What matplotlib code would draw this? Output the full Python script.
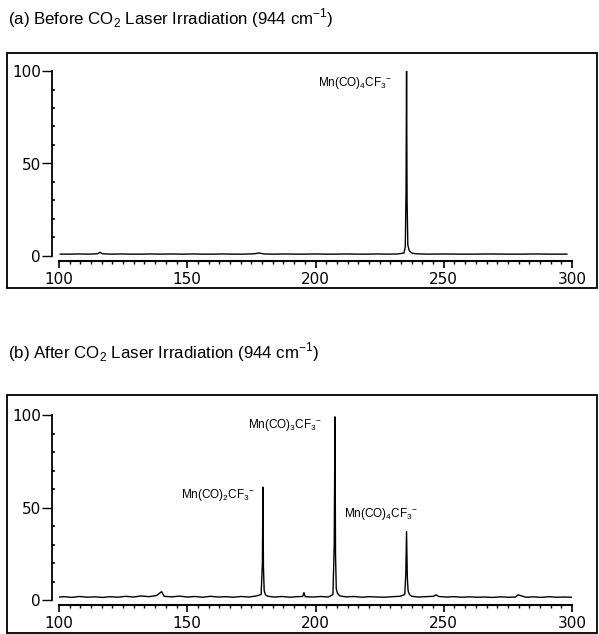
import matplotlib.pyplot as plt
from matplotlib.patches import Rectangle
from matplotlib.ticker import MultipleLocator

plt.rcParams['font.family'] = ['Liberation Sans', 'DejaVu Sans']
plt.rcParams['mathtext.fontset'] = 'custom'
plt.rcParams['mathtext.rm'] = 'Liberation Sans'

# ------------------------------
# Spectrum (a): before irradiation
# ------------------------------
mz_a = [100.5, 104, 108, 112, 115, 116, 117, 120, 124, 128, 132, 136, 140, 144,
        148, 152, 156, 160, 164, 168, 172, 176, 178, 180, 184, 188, 192, 196,
        200, 204, 208, 212, 216, 220, 224, 228, 232, 234.5, 235.0, 235.3,
        235.5, 235.7, 236.0, 236.5, 237.5, 239, 244, 250, 256, 262, 268, 274,
        280, 286, 292, 298]
int_a = [1.0, 1.0, 1.1, 1.0, 1.2, 2.0, 1.2, 1.0, 1.1, 1.0, 1.0, 1.1, 1.0, 1.1,
         1.0, 1.1, 1.0, 1.0, 1.1, 1.0, 1.0, 1.2, 1.6, 1.1, 1.0, 1.1, 1.0, 1.0,
         1.1, 1.0, 1.0, 1.1, 1.0, 1.0, 1.1, 1.0, 1.1, 1.6, 5.0, 35.0,
         100.0, 30.0, 6.0, 3.0, 1.6, 1.2, 1.0, 1.1, 1.0, 1.0, 1.1, 1.0,
         1.0, 1.1, 1.0, 1.0]

# ------------------------------
# Spectrum (b): after irradiation
# ------------------------------
mz_b = [99, 102, 105, 108, 111, 114, 117, 120, 123, 126, 129, 132, 135, 138,
        140, 141, 144, 147, 150, 153, 156, 159, 162, 165, 168, 171, 174, 177,
        178.8, 179.3, 179.5, 179.7, 180.0, 180.5, 181.5, 184, 187, 190, 193,
        195, 195.5, 196, 199, 202, 205, 206.8, 207.3, 207.6, 207.8, 208.1,
        208.6, 209.5, 212, 215, 218, 221, 224, 227, 230, 233, 234.8, 235.2,
        235.5, 235.8, 236.1, 236.6, 237.5, 240, 243, 246, 247, 248, 251, 254,
        257, 260, 263, 266, 269, 272, 275, 278, 279, 282, 285, 288, 291, 294,
        297, 300]
int_b = [1.5, 1.8, 1.4, 1.9, 1.5, 1.7, 1.4, 1.8, 1.5, 2.0, 1.6, 2.2, 1.8, 2.4,
         4.5, 2.0, 1.7, 2.1, 1.6, 1.9, 1.5, 2.0, 1.6, 1.8, 1.5, 1.9, 1.6, 2.2,
         3.0, 20.0, 61.0, 18.0, 5.0, 2.8, 2.0, 1.6, 1.9, 1.5, 1.8,
         1.9, 4.0, 1.8, 1.6, 1.9, 1.6, 3.0, 30.0, 99.0, 25.0, 6.0,
         3.5, 2.2, 1.7, 1.9, 1.5, 1.8, 1.6, 1.5, 1.8, 2.0, 3.0, 14.0,
         37.0, 12.0, 5.0, 3.0, 2.0, 1.6, 1.8, 2.0, 2.8, 1.9, 1.6, 1.8,
         1.5, 1.7, 1.5, 1.6, 1.4, 1.7, 1.5, 1.6, 2.8, 1.5, 1.7, 1.4, 1.8, 1.5,
         1.6, 1.5]

# Ion labels: (text, m/z position, intensity position)
labels_a = [(r"Mn(CO)$_4$CF$_3$$^{-}$", 215.5, 93.5)]
labels_b = [(r"Mn(CO)$_2$CF$_3$$^{-}$", 162.0, 57.0),
            (r"Mn(CO)$_3$CF$_3$$^{-}$", 188.0, 94.5),
            (r"Mn(CO)$_4$CF$_3$$^{-}$", 225.5, 46.5)]

titles = [r"(a) Before CO$_2$ Laser Irradiation (944 cm$^{-1}$)",
          r"(b) After CO$_2$ Laser Irradiation (944 cm$^{-1}$)"]

W, H = 599, 634
fig = plt.figure(figsize=(W / 100, H / 100), dpi=100)


def frac_x(px):
    return px / W


def frac_y(py):
    return 1 - py / H


def draw_panel(y0_px, y100_px, mz, inten, labels, title, title_y, box):
    ax = fig.add_axes([frac_x(59), frac_y(y0_px), frac_x(572) - frac_x(59),
                       frac_y(y100_px) - frac_y(y0_px)])
    ax.plot(mz, inten, color='black', lw=1.0)
    ax.set_xlim(100, 300)
    ax.set_ylim(0, 100)

    for s in ['top', 'right']:
        ax.spines[s].set_visible(False)
    ax.spines['left'].set_position(('outward', 5))
    ax.spines['bottom'].set_position(('outward', 3.5))
    ax.spines['left'].set_bounds(0, 100)
    ax.spines['bottom'].set_bounds(100, 300)
    ax.spines['left'].set_linewidth(1.3)
    ax.spines['bottom'].set_linewidth(1.5)

    ax.set_xticks([100, 150, 200, 250, 300])
    ax.xaxis.set_minor_locator(MultipleLocator(50 / 12))
    ax.set_yticks([0, 50, 100])
    ax.yaxis.set_minor_locator(MultipleLocator(10))
    ax.tick_params(axis='x', which='major', direction='out', length=5, width=1.2,
                   pad=3, labelsize=11, labelfontfamily='DejaVu Sans')
    ax.tick_params(axis='x', which='minor', direction='out', length=2.5, width=1.0)
    ax.tick_params(axis='y', which='major', direction='out', length=7, width=1.0,
                   pad=1, labelsize=11, labelfontfamily='DejaVu Sans')
    ax.tick_params(axis='y', which='minor', direction='in', length=2, width=1.2)

    for text, x, y in labels:
        ax.text(x, y, text, fontsize=8.5, ha='center', va='center')

    fig.text(frac_x(8), frac_y(title_y), title, fontsize=12.2, ha='left',
             va='center')
    x0, y_top, x1, y_bot = box
    fig.patches.append(Rectangle((frac_x(x0), frac_y(y_bot)),
                                 frac_x(x1) - frac_x(x0),
                                 frac_y(y_top) - frac_y(y_bot),
                                 transform=fig.transFigure, fill=False,
                                 edgecolor='black', lw=1.3))
    return ax


draw_panel(256, 71, mz_a, int_a, labels_a, titles[0], 18, (7, 53, 597, 288))
draw_panel(600, 415, mz_b, int_b, labels_b, titles[1], 352, (7, 395, 597, 633))

fig.savefig('out.png', dpi=100)
